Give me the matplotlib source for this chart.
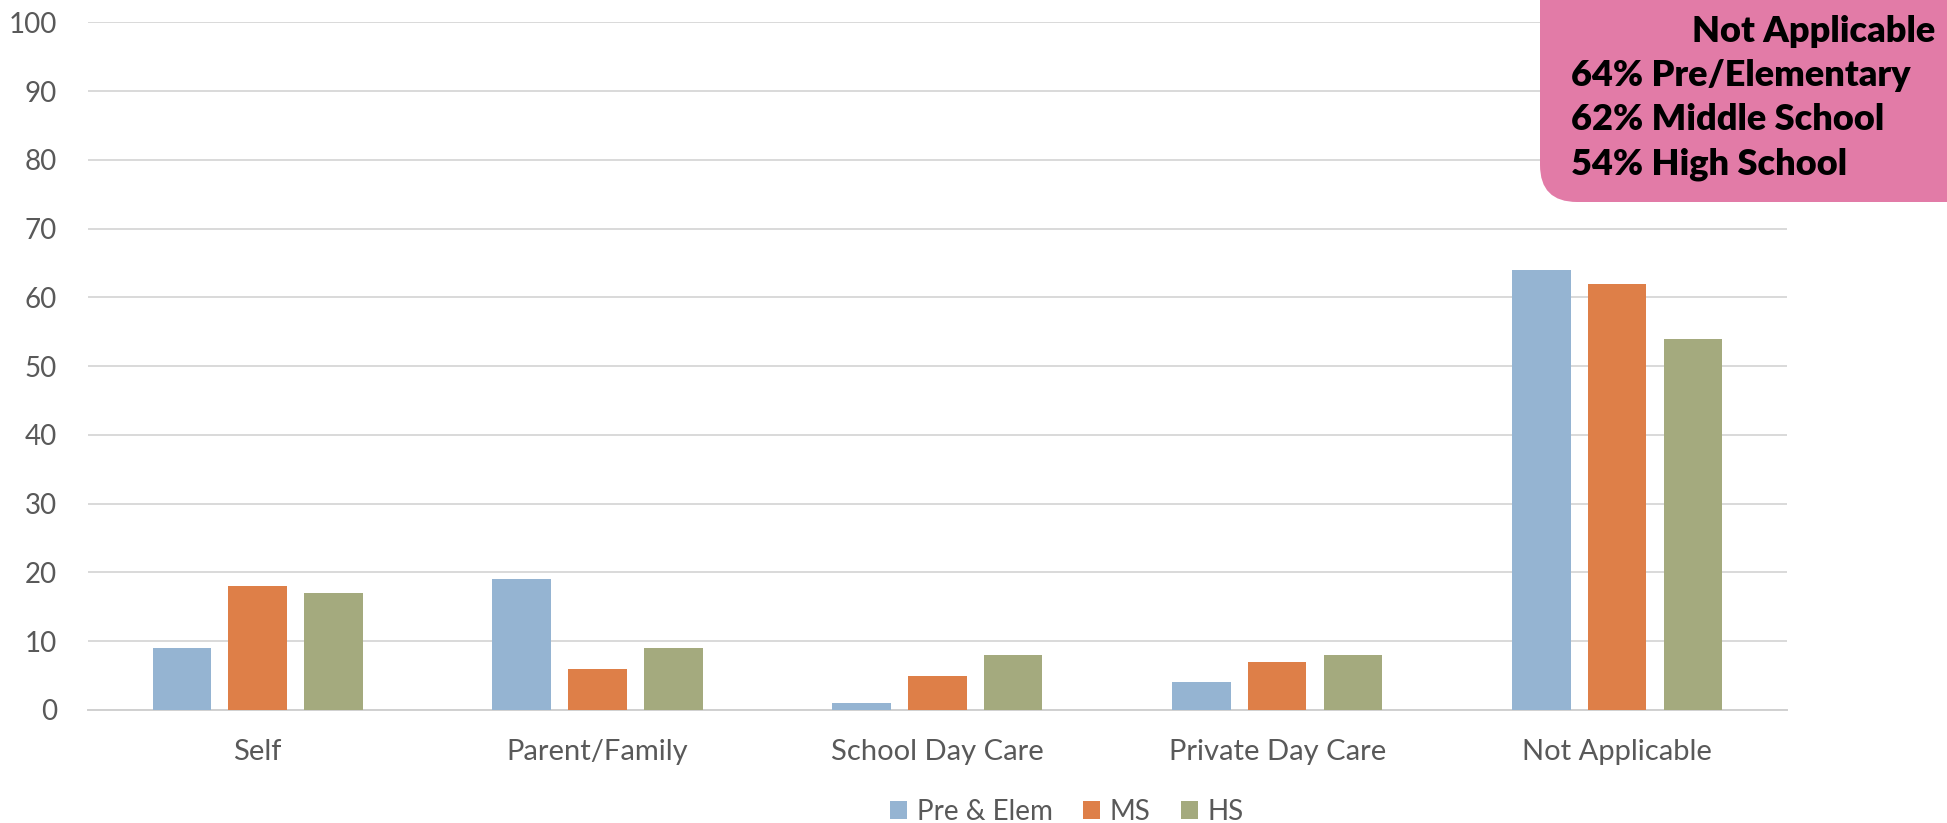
import matplotlib
matplotlib.use("Agg")
import matplotlib.pyplot as plt
import numpy as np
from matplotlib.patches import FancyBboxPatch

categories = ["Self", "Parent/Family", "School Day Care", "Private Day Care", "Not Applicable"]
series_names = ["Pre & Elem", "MS", "HS"]
pre_elem = [9, 19, 1, 4, 64]
ms = [18, 6, 5, 7, 62]
hs = [17, 9, 8, 8, 54]
y_ticks = [0, 10, 20, 30, 40, 50, 60, 70, 80, 90, 100]
box_title = "Not Applicable"
box_lines = ["64% Pre/Elementary", "62% Middle School", "54% High School"]

colors = ["#95B4D2", "#DE7F48", "#A4AA7E"]
txt = "#595959"
plt.rcParams['font.family'] = ['Lato', 'DejaVu Sans']

W, H = 1947, 823
fig = plt.figure(figsize=(W / 100, H / 100), dpi=100)
ax = fig.add_axes([87.7 / W, 1 - 710 / H, (1787 - 87.7) / W, (710 - 22.4) / H])

x = np.arange(len(categories))
bw = 0.172
step = 0.223
for i, (vals, name) in enumerate(zip([pre_elem, ms, hs], series_names)):
    ax.bar(x + (i - 1) * step, vals, width=bw, color=colors[i], label=name, zorder=3)

ax.set_xlim(-0.5, len(categories) - 0.5)
ax.set_ylim(0, 100)
ax.set_yticks(y_ticks)
ax.set_yticklabels([str(t) for t in y_ticks])
ax.set_xticks(x)
ax.set_xticklabels(categories)
ax.yaxis.grid(True, color="#D9D9D9", linewidth=1.4, zorder=0)
ax.set_axisbelow(True)
for s in ["top", "right", "left"]:
    ax.spines[s].set_visible(False)
ax.spines["bottom"].set_color("#D0D0D0")
ax.spines["bottom"].set_linewidth(1.4)
ax.tick_params(axis="y", length=0, pad=22, labelsize=20, labelcolor=txt)
ax.tick_params(axis="x", length=0, pad=21, labelsize=21, labelcolor=txt)

leg = fig.legend(loc="center", bbox_to_anchor=(0.548, 1 - 812 / H), ncol=3, frameon=False,
                 fontsize=20, handlelength=0.6, handleheight=0.6, handletextpad=0.35,
                 columnspacing=1.1, labelcolor=txt)

box = FancyBboxPatch((1540 / W, 1 - 202 / H), 0.3, 0.4,
                     boxstyle="round,pad=0,rounding_size=0.019",
                     mutation_aspect=W / H,
                     transform=fig.transFigure, facecolor="#E27BA7", edgecolor="none",
                     zorder=5, clip_on=False)
fig.patches.append(box)

fig.text(1935 / W, 1 - 31 / H, box_title, ha="right", va="center", fontsize=26,
         fontweight="heavy", color="black", zorder=6)
for j, line in enumerate(box_lines):
    fig.text(1571 / W, 1 - (76 + 44 * j) / H, line, ha="left", va="center", fontsize=26,
             fontweight="heavy", color="black", zorder=6)

fig.savefig("out.png", dpi=100)
